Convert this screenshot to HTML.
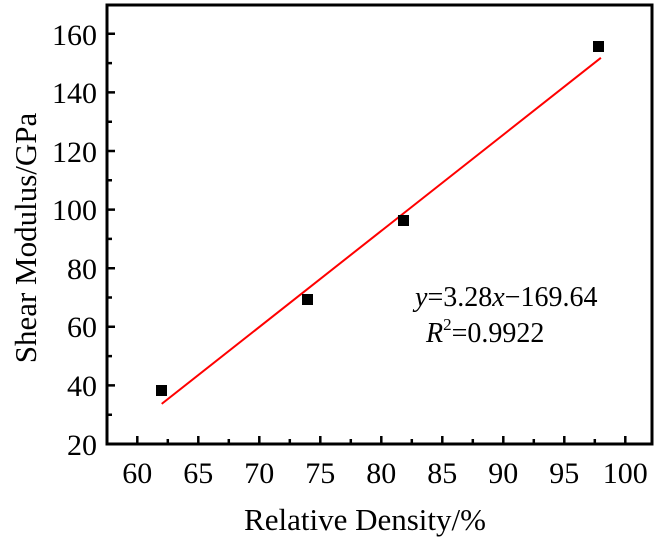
<!DOCTYPE html>
<html><head><style>body{margin:0;background:#fff}</style></head><body>
<svg width="661" height="543" xmlns="http://www.w3.org/2000/svg" font-family="Liberation Serif, serif">
<rect x="107" y="5" width="545" height="439" fill="none" stroke="#000" stroke-width="3"/>
<g stroke="#000" stroke-width="2.5">
<path d="M137.3 444v-8M198.3 444v-8M259.3 444v-8M320.3 444v-8M381.3 444v-8M442.3 444v-8M503.3 444v-8M564.3 444v-8M625.3 444v-8"/>
<path d="M167.8 444v-5M228.8 444v-5M289.8 444v-5M350.8 444v-5M411.8 444v-5M472.8 444v-5M533.8 444v-5M594.8 444v-5"/>
<path d="M107 385.4h8M107 326.8h8M107 268.2h8M107 209.6h8M107 151h8M107 92.4h8M107 33.8h8"/>
<path d="M107 414.7h5M107 356.1h5M107 297.5h5M107 238.9h5M107 180.3h5M107 121.7h5M107 63.1h5"/>
</g>
<g font-size="30" text-anchor="middle">
<text x="137.3" y="483">60</text><text x="198.3" y="483">65</text><text x="259.3" y="483">70</text><text x="320.3" y="483">75</text><text x="381.3" y="483">80</text><text x="442.3" y="483">85</text><text x="503.3" y="483">90</text><text x="564.3" y="483">95</text><text x="625.3" y="483">100</text>
</g>
<g font-size="30" text-anchor="end">
<text x="97" y="455">20</text><text x="97" y="396">40</text><text x="97" y="337">60</text><text x="97" y="279">80</text><text x="97" y="220">100</text><text x="97" y="162">120</text><text x="97" y="103">140</text><text x="97" y="45">160</text>
</g>
<text x="365" y="530" font-size="31" text-anchor="middle">Relative Density/%</text>
<text transform="translate(36,238) rotate(-90)" font-size="31" text-anchor="middle">Shear Modulus/GPa</text>
<line x1="161.7" y1="403.9" x2="600.9" y2="57.8" stroke="#f00" stroke-width="2"/>
<g fill="#000">
<rect x="156" y="385" width="11" height="11"/>
<rect x="302" y="294" width="11" height="11"/>
<rect x="398" y="215" width="11" height="11"/>
<rect x="593" y="41" width="11" height="11"/>
</g>
<text x="415" y="306" font-size="28"><tspan font-style="italic">y</tspan>=3.28<tspan font-style="italic">x</tspan>−169.64</text>
<text x="426" y="342" font-size="28"><tspan font-style="italic">R</tspan><tspan font-size="17" dy="-12">2</tspan><tspan dy="12">=0.9922</tspan></text>
</svg>
</body></html>
